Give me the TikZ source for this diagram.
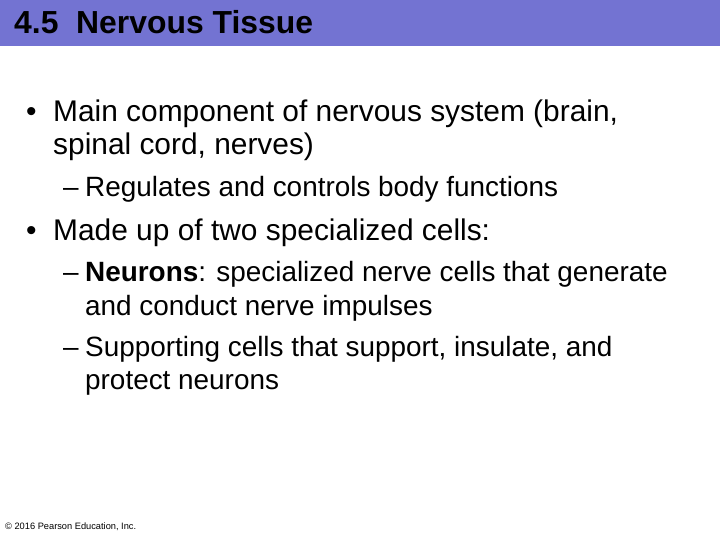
\documentclass[tikz,border=0pt]{standalone}
\usepackage{fontspec}
\setmainfont{Liberation Sans}
\definecolor{bar}{RGB}{115,115,210}
\begin{document}
\begin{tikzpicture}[x=1bp,y=-1bp,
  txt/.style={anchor=base west,inner sep=0,font=\fontsize{30}{34}\selectfont},
  sub/.style={anchor=base west,inner sep=0,font=\fontsize{28}{32}\selectfont}]
\useasboundingbox (0,0) rectangle (720,540);
\fill[white] (0,0) rectangle (720,540);
\fill[bar] (0,0) rectangle (720,46);
\node[anchor=base west,inner sep=0,font=\fontsize{32}{36}\selectfont\bfseries] (title) at (14,34) {4.5\ \ Nervous Tissue};
\node[txt] (b1) at (26,122) {•};
\node[txt] (l1) at (53,122) {Main component of nervous system (brain,};
\node[txt] (l2) at (53,155) {spinal cord, nerves)};
\node[sub] (d1) at (63,197) {–};
\node[sub] (l3) at (85,197) {Regulates and controls body functions};
\node[txt] (b2) at (26,241) {•};
\node[txt] (l4) at (53,241) {Made up of two specialized cells:};
\node[sub] (d2) at (63,282) {–};
\node[sub] (l5) at (85,282) {\textbf{Neurons}: specialized nerve cells that generate};
\node[sub] (l6) at (85,315) {and conduct nerve impulses};
\node[sub] (d3) at (63,356) {–};
\node[sub] (l7) at (85,356) {Supporting cells that support, insulate, and};
\node[sub] (l8) at (85,389) {protect neurons};
\node[anchor=base west,inner sep=0,font=\fontsize{9.3}{10}\selectfont] (foot) at (5,529) {© 2016 Pearson Education, Inc.};
\end{tikzpicture}
\end{document}
